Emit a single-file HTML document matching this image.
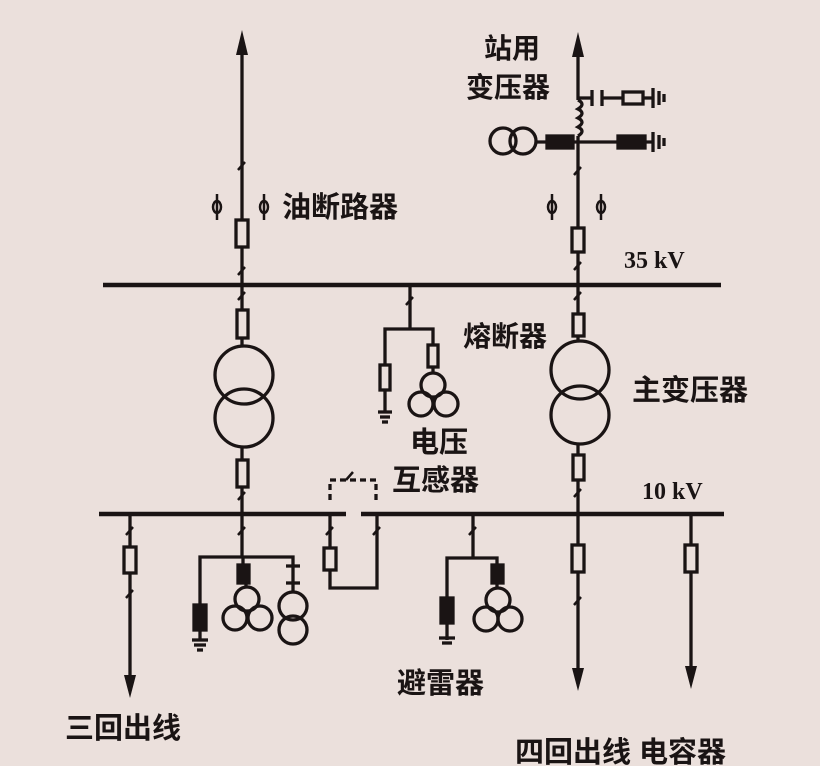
<!DOCTYPE html>
<html><head><meta charset="utf-8"><style>
html,body{margin:0;padding:0;background:#ebe0dc;}
svg{display:block}
text{font-family:"Liberation Sans","Noto Sans CJK SC",sans-serif;fill:#1a1414;font-weight:bold}
</style></head><body>
<svg width="820" height="766" viewBox="0 0 820 766" xmlns="http://www.w3.org/2000/svg">
<rect width="820" height="766" fill="#ebe0dc"/>
<g stroke="#1a1414" stroke-width="3.3" fill="none">
<!-- buses -->
<line x1="103" y1="285" x2="721" y2="285" stroke-width="4.5"/>
<line x1="99" y1="514" x2="346" y2="514" stroke-width="4.5"/>
<line x1="361" y1="514" x2="724" y2="514" stroke-width="4.5"/>
<!-- left main line -->
<line x1="242" y1="45" x2="242" y2="220"/>
<line x1="242" y1="247" x2="242" y2="310"/>
<rect x="236" y="220" width="12" height="27"/>
<rect x="237" y="310" width="11" height="28"/>
<line x1="242" y1="338" x2="242" y2="346"/>
<circle cx="244" cy="375" r="29"/>
<circle cx="244" cy="418" r="29"/>
<line x1="242" y1="447" x2="242" y2="460"/>
<rect x="237" y="460" width="11" height="27"/>
<line x1="242" y1="487" x2="242" y2="557"/>
<!-- right main line -->
<line x1="578" y1="45" x2="578" y2="100"/>
<path d="M578 100 q8 4 0 9 q8 4 0 9 q8 4 0 9 q8 4 0 9"/>
<line x1="578" y1="136" x2="578" y2="228"/>
<rect x="572" y="228" width="12" height="24"/>
<line x1="578" y1="252" x2="578" y2="314"/>
<rect x="573" y="314" width="11" height="22"/>
<line x1="578" y1="336" x2="578" y2="341"/>
<circle cx="580" cy="370" r="29"/>
<circle cx="580" cy="415" r="29"/>
<line x1="578" y1="444" x2="578" y2="455"/>
<rect x="573" y="455" width="11" height="25"/>
<line x1="578" y1="480" x2="578" y2="545"/>
<rect x="572" y="545" width="12" height="27"/>
<line x1="578" y1="572" x2="578" y2="675"/>
<!-- station transformer -->
<line x1="578" y1="98" x2="592" y2="98"/>
<line x1="592" y1="90" x2="592" y2="106"/>
<line x1="602" y1="90" x2="602" y2="106"/>
<line x1="602" y1="98" x2="623" y2="98"/>
<rect x="623" y="92" width="20" height="12"/>
<line x1="643" y1="98" x2="653" y2="98"/>
<line x1="653" y1="88" x2="653" y2="108"/>
<line x1="659" y1="91" x2="659" y2="105"/>
<line x1="664" y1="94" x2="664" y2="102"/>
<line x1="536" y1="142" x2="653" y2="142"/>
<rect x="547" y="136" width="26" height="12" fill="#1a1414"/>
<rect x="618" y="136" width="27" height="12" fill="#1a1414"/>
<line x1="653" y1="132" x2="653" y2="152"/>
<line x1="659" y1="135" x2="659" y2="149"/>
<line x1="664" y1="138" x2="664" y2="146"/>
<circle cx="503" cy="141" r="13"/>
<circle cx="523" cy="141" r="13"/>
<!-- VT branch -->
<line x1="410" y1="285" x2="410" y2="329"/>
<polyline points="385,365 385,329 433,329 433,345"/>
<rect x="380" y="365" width="10" height="25"/>
<line x1="385" y1="390" x2="385" y2="412"/>
<line x1="378" y1="412" x2="392" y2="412"/>
<line x1="380" y1="417" x2="390" y2="417"/>
<line x1="382" y1="422" x2="388" y2="422"/>
<rect x="428" y="345" width="10" height="22"/>
<line x1="433" y1="367" x2="433" y2="373"/>
<circle cx="433" cy="385" r="12"/>
<circle cx="421" cy="404" r="12"/>
<circle cx="446" cy="404" r="12"/>
<!-- left feeder -->
<line x1="130" y1="514" x2="130" y2="547"/>
<rect x="124" y="547" width="12" height="26"/>
<line x1="130" y1="573" x2="130" y2="685"/>
<!-- station branch -->
<polyline points="200,605 200,557 293,557 293,565"/>
<rect x="194" y="605" width="12" height="25" fill="#1a1414"/>
<line x1="200" y1="630" x2="200" y2="640"/>
<line x1="192" y1="640" x2="208" y2="640"/>
<line x1="194" y1="645" x2="206" y2="645"/>
<line x1="197" y1="650" x2="203" y2="650"/>
<line x1="243" y1="557" x2="243" y2="565"/>
<rect x="238" y="565" width="11" height="18" fill="#1a1414"/>
<line x1="246" y1="583" x2="246" y2="588"/>
<circle cx="247" cy="599" r="12"/>
<circle cx="235" cy="618" r="12"/>
<circle cx="260" cy="618" r="12"/>
<line x1="286" y1="566" x2="300" y2="566"/>
<line x1="286" y1="583" x2="300" y2="583"/>
<line x1="293" y1="566" x2="293" y2="583"/>
<line x1="293" y1="583" x2="293" y2="592"/>
<circle cx="293" cy="606" r="14"/>
<circle cx="293" cy="630" r="14"/>
<!-- coupler -->
<polyline points="330,514 330,548"/>
<rect x="324" y="548" width="12" height="22"/>
<polyline points="330,570 330,588 377,588 377,514"/>
<polyline points="330,500 330,480 376,480 376,500" stroke-dasharray="6,4"/>
<!-- arrester branch -->
<line x1="473" y1="514" x2="473" y2="558"/>
<polyline points="447,598 447,558 497,558 497,565"/>
<rect x="441" y="598" width="12" height="25" fill="#1a1414"/>
<line x1="447" y1="623" x2="447" y2="640"/>
<line x1="439" y1="638" x2="455" y2="638"/>
<line x1="442" y1="643" x2="452" y2="643"/>
<rect x="492" y="565" width="11" height="18" fill="#1a1414"/>
<line x1="497" y1="583" x2="497" y2="589"/>
<circle cx="498" cy="600" r="12"/>
<circle cx="486" cy="619" r="12"/>
<circle cx="510" cy="619" r="12"/>
<!-- capacitor line -->
<line x1="691" y1="514" x2="691" y2="545"/>
<rect x="685" y="545" width="12" height="27"/>
<line x1="691" y1="572" x2="691" y2="673"/>
<!-- disconnect slashes -->
<g stroke-width="2.5">
<path d="M238 170 l7 -8 M238 275 l7 -8 M238 300 l7 -8 M238 500 l7 -8 M238 535 l7 -8"/>
<path d="M574 175 l7 -8 M574 270 l7 -8 M574 300 l7 -8 M574 497 l7 -8 M574 605 l7 -8"/>
<path d="M406 305 l7 -8 M126 535 l7 -8 M126 598 l7 -8 M326 535 l7 -8 M373 535 l7 -8 M469 535 l7 -8 M346 480 l7 -8"/>
</g>
<!-- phi symbols -->
<g stroke-width="2.5">
<line x1="217" y1="194" x2="217" y2="220"/><ellipse cx="217" cy="207" rx="4" ry="6"/>
<line x1="264" y1="194" x2="264" y2="220"/><ellipse cx="264" cy="207" rx="4" ry="6"/>
<line x1="552" y1="194" x2="552" y2="220"/><ellipse cx="552" cy="207" rx="4" ry="6"/>
<line x1="601" y1="194" x2="601" y2="220"/><ellipse cx="601" cy="207" rx="4" ry="6"/>
</g>
</g>
<!-- arrowheads -->
<g fill="#1a1414">
<polygon points="242,30 236,55 248,55"/>
<polygon points="578,32 572,57 584,57"/>
<polygon points="130,698 124,675 136,675"/>
<polygon points="578,691 572,668 584,668"/>
<polygon points="691,689 685,666 697,666"/>
</g>
<!-- labels -->
<text x="484" y="58" font-size="28">站用</text>
<text x="466" y="97" font-size="28">变压器</text>
<text x="282" y="217" font-size="29">油断路器</text>
<text x="624" y="268" font-size="24" font-weight="normal" style="font-family:'Liberation Serif',serif">35 kV</text>
<text x="463" y="346" font-size="28">熔断器</text>
<text x="632" y="400" font-size="29">主变压器</text>
<text x="410" y="452" font-size="29">电压</text>
<text x="392" y="490" font-size="29">互感器</text>
<text x="642" y="499" font-size="24" font-weight="normal" style="font-family:'Liberation Serif',serif">10 kV</text>
<text x="397" y="693" font-size="29">避雷器</text>
<text x="65" y="738" font-size="29">三回出线</text>
<text x="515" y="762" font-size="29">四回出线 电容器</text>
</svg>
</body></html>
